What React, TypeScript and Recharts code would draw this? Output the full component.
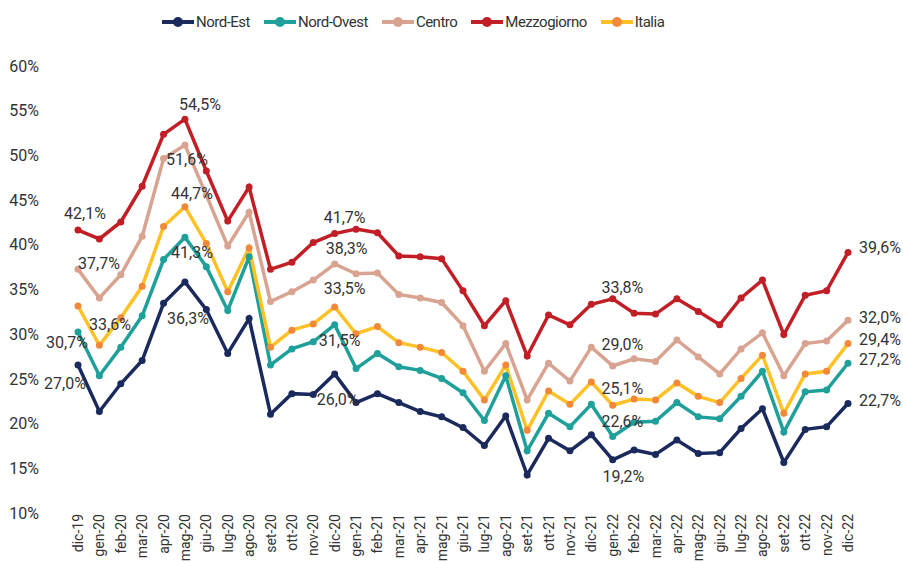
import React from "react";
import { LineChart, Line, XAxis, YAxis, Legend, LabelList } from "recharts";

const months = [
  "dic-19", "gen-20", "feb-20", "mar-20", "apr-20", "mag-20", "giu-20", "lug-20", "ago-20",
  "set-20", "ott-20", "nov-20", "dic-20", "gen-21", "feb-21", "mar-21", "apr-21", "mag-21",
  "giu-21", "lug-21", "ago-21", "set-21", "ott-21", "nov-21", "dic-21", "gen-22", "feb-22",
  "mar-22", "apr-22", "mag-22", "giu-22", "lug-22", "ago-22", "set-22", "ott-22", "nov-22", "dic-22",
];

const nordEst = [
  27.0, 21.8, 24.9, 27.5, 33.9, 36.3, 33.2, 28.3, 32.2, 21.5, 23.8, 23.7, 26.0,
  22.8, 23.8, 22.8, 21.8, 21.2, 20.0, 18.0, 21.3, 14.7, 18.8, 17.4, 19.2,
  16.4, 17.5, 17.0, 18.6, 17.1, 17.2, 19.9, 22.1, 16.1, 19.8, 20.1, 22.7,
];

const nordOvest = [
  30.7, 25.8, 29.0, 32.5, 38.8, 41.3, 38.0, 33.1, 39.1, 27.0, 28.8, 29.6, 31.5,
  26.6, 28.3, 26.8, 26.4, 25.5, 23.9, 20.8, 25.8, 17.4, 21.6, 20.1, 22.6,
  19.0, 20.6, 20.7, 22.8, 21.2, 21.0, 23.5, 26.3, 19.5, 24.0, 24.2, 27.2,
];

const centro = [
  37.7, 34.5, 37.1, 41.4, 50.1, 51.6, 46.0, 40.3, 44.1, 34.1, 35.2, 36.5, 38.3,
  37.2, 37.3, 34.9, 34.5, 34.0, 31.4, 26.3, 29.4, 23.1, 27.2, 25.2, 29.0,
  26.9, 27.7, 27.4, 29.8, 27.9, 26.0, 28.8, 30.6, 25.8, 29.4, 29.7, 32.0,
];

const mezzogiorno = [
  42.1, 41.1, 43.0, 47.0, 52.8, 54.5, 48.7, 43.1, 46.9, 37.7, 38.5, 40.7, 41.7,
  42.2, 41.8, 39.2, 39.1, 38.9, 35.3, 31.4, 34.2, 28.0, 32.6, 31.5, 33.8,
  34.4, 32.8, 32.7, 34.4, 33.0, 31.5, 34.5, 36.5, 30.4, 34.8, 35.3, 39.6,
];

const italia = [
  33.6, 29.2, 32.3, 35.8, 42.5, 44.7, 40.6, 35.2, 40.1, 29.0, 30.9, 31.6, 33.5,
  30.5, 31.3, 29.5, 29.0, 28.4, 26.3, 23.1, 27.0, 19.7, 24.1, 22.6, 25.1,
  22.5, 23.2, 23.1, 25.0, 23.5, 22.8, 25.5, 28.1, 21.6, 26.0, 26.3, 29.4,
];

const yTicks = [10, 15, 20, 25, 30, 35, 40, 45, 50, 55, 60];

const data = months.map((month, i) => ({
  month,
  nordEst: nordEst[i],
  nordOvest: nordOvest[i],
  centro: centro[i],
  mezzogiorno: mezzogiorno[i],
  italia: italia[i],
}));

const FONT = "Roboto, 'Noto Sans', sans-serif";
const TEXT = "#333333";

// index -> [dx, dy, anchor] for the labelled points
type Place = [number, number, string?];
const labelPlaces: Record<string, Record<number, Place>> = {
  nordEst: { 0: [-13, 18], 5: [3, 37], 12: [3, 26], 24: [32, 42], 36: [11, -3, "start"] },
  nordOvest: { 0: [-11, 11], 5: [7, 15], 12: [5, 16], 24: [31, 17], 36: [11, -4, "start"] },
  centro: { 0: [21, -6], 5: [2, 14], 12: [12, -15], 24: [31, -3], 36: [11, -3, "start"] },
  mezzogiorno: { 0: [7, -17], 5: [15, -15], 12: [10, -16], 24: [31, -17], 36: [11, -5, "start"] },
  italia: { 0: [32, 18], 5: [7, -13], 12: [10, -18], 24: [31, 6], 36: [11, -4, "start"] },
};

const series = [
  { key: "nordEst", name: "Nord-Est", color: "#1B2A5C", dot: "#1B2A5C" },
  { key: "nordOvest", name: "Nord-Ovest", color: "#1FA09A", dot: "#1FA09A" },
  { key: "centro", name: "Centro", color: "#D9A391", dot: "#D9A391" },
  { key: "mezzogiorno", name: "Mezzogiorno", color: "#C21E26", dot: "#C21E26" },
  { key: "italia", name: "Italia", color: "#FFC125", dot: "#F2893A" },
];

const fmt = (v: number) => v.toFixed(1).replace(".", ",") + "%";

const makeLabel = (key: string) => (props: any) => {
  const { x, y, value, index } = props;
  const place = labelPlaces[key][index];
  if (!place || value == null) return null;
  const [dx, dy, anchor] = place;
  return (
    <text
      x={x + dx}
      y={y + dy}
      textAnchor={anchor || "middle"}
      dominantBaseline="central"
      fontFamily={FONT}
      fontSize={16}
      fill={TEXT}
    >
      {fmt(value)}
    </text>
  );
};

const XTick = ({ x, y, payload }: any) => (
  <text
    x={x}
    y={y - 3}
    transform={`rotate(-90, ${x}, ${y - 3})`}
    textAnchor="end"
    dy="0.36em"
    fontFamily={FONT}
    fontSize={14}
    fill={TEXT}
  >
    {payload.value}
  </text>
);

const YTick = ({ x, y, payload }: any) => (
  <text
    x={x}
    y={y - 4}
    textAnchor="end"
    dy="0.355em"
    fontFamily={FONT}
    fontSize={16}
    fill={TEXT}
  >
    {`${payload.value}%`}
  </text>
);

const LegendContent = () => (
  <div
    style={{
      display: "flex",
      alignItems: "center",
      height: 24,
      fontFamily: FONT,
      color: TEXT,
      paddingLeft: 162,
      gap: 14,
    }}
  >
    {series.map((s) => (
      <div key={s.key} style={{ display: "flex", alignItems: "center" }}>
        <svg width={32} height={12} style={{ marginRight: 2 }}>
          <line x1={0} y1={6} x2={32} y2={6} stroke={s.color} strokeWidth={4} />
          <circle cx={16} cy={6} r={5} fill={s.dot} />
        </svg>
        <span style={{ fontSize: 15, letterSpacing: -0.5 }}>{s.name}</span>
      </div>
    ))}
  </div>
);

export default function App() {
  return (
    <div style={{ position: "absolute", left: 0, top: 0, background: "#fff" }}>
      <LineChart
        width={903}
        height={562}
        data={data}
        margin={{ top: 46, right: 55, bottom: 0, left: 0 }}
      >
        <Legend
          verticalAlign="top"
          content={<LegendContent />}
          wrapperStyle={{ top: 10, left: 0, width: 903 }}
        />
        <XAxis
          dataKey="month"
          interval={0}
          tickLine={false}
          axisLine={false}
          tickSize={0}
          tickMargin={0}
          height={45}
          padding={{ left: 18, right: 0 }}
          tick={<XTick />}
        />
        <YAxis
          domain={[10, 60]}
          ticks={yTicks}
          tickLine={false}
          axisLine={false}
          tickSize={0}
          tickMargin={21}
          width={60}
          tick={<YTick />}
        />
        {series.map((s) => (
          <Line
            key={s.key}
            type="linear"
            dataKey={s.key}
            name={s.name}
            stroke={s.color}
            strokeWidth={3.5}
            dot={{ r: 3.5, fill: s.dot, stroke: "none" }}
            activeDot={false}
            isAnimationActive={false}
          >
            <LabelList dataKey={s.key} content={makeLabel(s.key)} />
          </Line>
        ))}
      </LineChart>
    </div>
  );
}
